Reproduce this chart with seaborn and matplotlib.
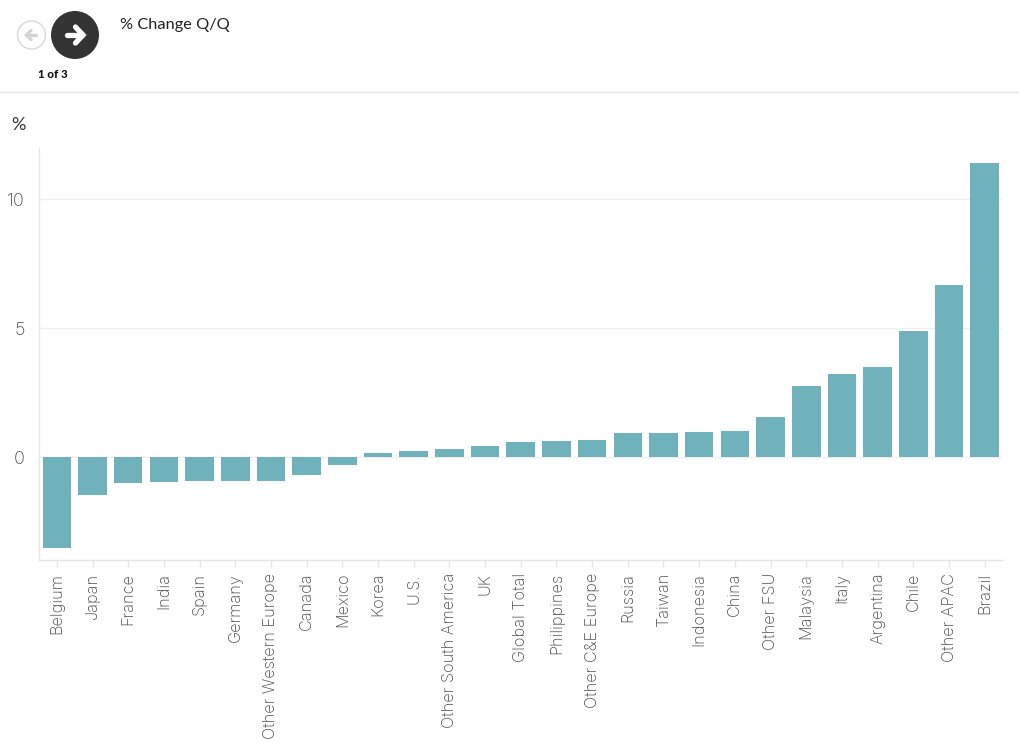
import matplotlib
matplotlib.use('Agg')
import matplotlib.pyplot as plt
import seaborn as sns
import pandas as pd
from matplotlib.patches import Circle

countries = ['Belgium', 'Japan', 'France', 'India', 'Spain', 'Germany', 'Other Western Europe',
             'Canada', 'Mexico', 'Korea', 'U.S.', 'Other South America', 'UK', 'Global Total',
             'Philippines', 'Other C&E Europe', 'Russia', 'Taiwan', 'Indonesia', 'China',
             'Other FSU', 'Malaysia', 'Italy', 'Argentina', 'Chile', 'Other APAC', 'Brazil']
change = [-3.53, -1.47, -1.0, -0.98, -0.93, -0.92, -0.91, -0.68, -0.3, 0.15, 0.22, 0.3, 0.43,
          0.58, 0.62, 0.66, 0.93, 0.95, 0.98, 1.02, 1.55, 2.74, 3.22, 3.5, 4.87, 6.67, 11.38]
y_ticks = [0, 5, 10]

W, H = 1020, 743
sns.set_theme(style='white')
plt.rcParams['font.family'] = ['Inter', 'DejaVu Sans']

df = pd.DataFrame({'country': countries, 'change': change})

fig = plt.figure(figsize=(W / 100, H / 100), dpi=100)
ax = fig.add_axes([39 / W, 1 - 560.3 / H, 963.5 / W, 412.8 / H])

sns.barplot(data=df, x='country', y='change', color='#63acb7', saturation=1, alpha=0.92,
            width=0.8, linewidth=0, ax=ax, zorder=3)

ax.set_xlim(-0.5, 26.5)
ax.set_ylim(-4, 12)
ax.set_yticks(y_ticks)
ax.set_xlabel('')
ax.set_ylabel('')
ax.yaxis.grid(True, color='#efefef', linewidth=1)
ax.set_axisbelow(True)
sns.despine(ax=ax, top=True, right=True)
for s in ['left', 'bottom']:
    ax.spines[s].set_color('#e6e6e6')
    ax.spines[s].set_linewidth(1)
ax.tick_params(axis='y', length=5, width=1, color='#efefef', labelcolor='#4d4d4d',
               labelsize=13, pad=5)
ax.tick_params(axis='x', length=5, width=1, color='#e6e6e6', labelcolor='#4d4d4d',
               labelsize=11.7, pad=4, bottom=True)
for t in ax.get_xticklabels():
    t.set_rotation(90)
    t.set_fontweight('light')
for t in ax.get_yticklabels():
    t.set_fontweight('light')

# header on top of the chart, in pixel coordinates
ui = fig.add_axes([0, 0, 1, 1], zorder=5)
ui.set_xlim(0, W)
ui.set_ylim(H, 0)
ui.axis('off')
ui.patch.set_alpha(0)

ui.plot([0, W], [92, 92], color='#e8e8e8', lw=1)
ui.add_patch(Circle((31.5, 35), 14, facecolor='white', edgecolor='#d8d8d8', lw=1))
ui.plot([36, 27], [35, 35], color='#d4d4d4', lw=2.4, solid_capstyle='round')
ui.plot([31, 26.5, 31], [30.5, 35, 39.5], color='#d4d4d4', lw=2.4, solid_capstyle='round',
        solid_joinstyle='miter')
ui.add_patch(Circle((75, 35), 24, facecolor='#333333', edgecolor='none'))
ui.plot([67, 82], [35, 35], color='white', lw=3.8, solid_capstyle='round')
ui.plot([75.5, 83, 75.5], [27, 35, 43], color='white', lw=3.8, solid_capstyle='round',
        solid_joinstyle='miter')

ui.text(53, 74, '1 of 3', fontsize=8.3, fontweight='black', color='#111111', ha='center', va='center',
        family=['Lato', 'DejaVu Sans'])
ui.text(120, 25, '% Change Q/Q', fontsize=11.8, color='#222222', ha='left', va='center',
        family=['Lato', 'DejaVu Sans'])
ui.text(11, 125, '%', fontsize=13, color='#333333', ha='left', va='center',
        family=['Lato', 'DejaVu Sans'])

fig.savefig('out.png', dpi=100)
